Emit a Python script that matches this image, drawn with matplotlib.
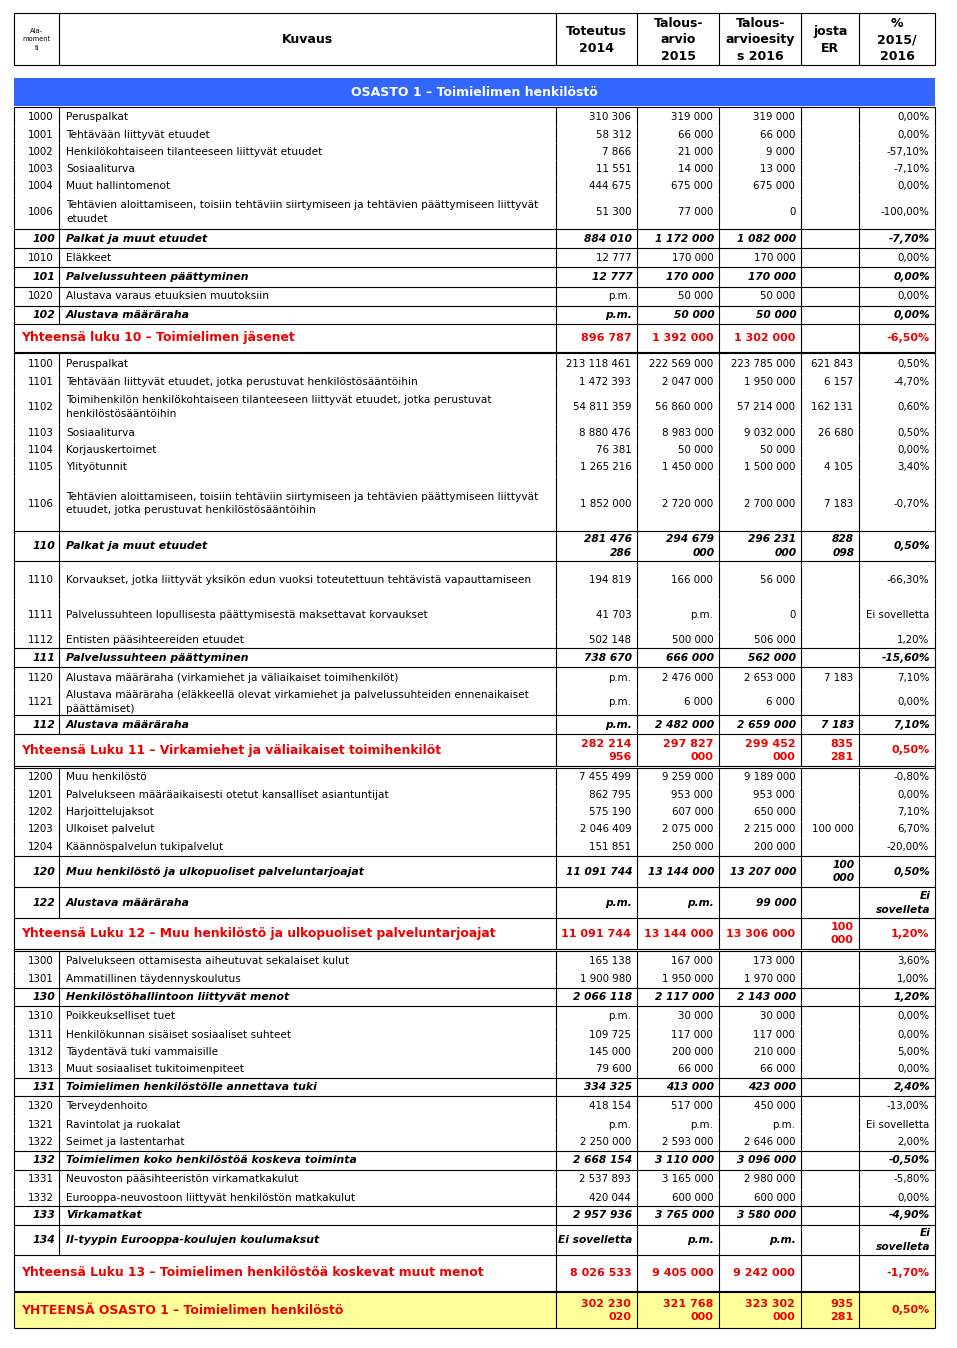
import matplotlib.pyplot as plt
from matplotlib.patches import Rectangle

plt.rcParams['font.family'] = 'DejaVu Sans'

# ---- table contents ----
header_labels = ['Ala-\nmoment\nti', 'Kuvaus', 'Toteutus\n2014', 'Talous-\narvio\n2015',
                 'Talous-\narvioesity\ns 2016', 'josta\nER', '%\n2015/\n2016']
section_title = 'OSASTO 1 – Toimielimen henkilöstö'

codes = ['1000', '1001', '1002', '1003', '1004', '1006', '100', '1010', '101', '1020', '102', '',
         '1100', '1101', '1102', '1103', '1104', '1105', '1106', '110',
         '1110', '1111', '1112', '111', '1120', '1121', '112', '',
         '1200', '1201', '1202', '1203', '1204', '120', '122', '',
         '1300', '1301', '130', '1310', '1311', '1312', '1313', '131',
         '1320', '1321', '1322', '132', '1331', '1332', '133', '134', '', '']

row_kinds = ['item'] * 6 + ['sub', 'item', 'sub', 'item', 'sub', 'total'] + \
            ['item'] * 7 + ['sub'] + ['item'] * 3 + ['sub', 'item', 'item', 'sub', 'total'] + \
            ['item'] * 5 + ['sub', 'sub', 'total'] + \
            ['item', 'item', 'sub'] + ['item'] * 4 + ['sub'] + ['item'] * 3 + ['sub'] + \
            ['item', 'item', 'sub', 'sub', 'total', 'grand']

descriptions = [
    'Peruspalkat',
    'Tehtävään liittyvät etuudet',
    'Henkilökohtaiseen tilanteeseen liittyvät etuudet',
    'Sosiaaliturva',
    'Muut hallintomenot',
    'Tehtävien aloittamiseen, toisiin tehtäviin siirtymiseen ja tehtävien päättymiseen liittyvät\netuudet',
    'Palkat ja muut etuudet',
    'Eläkkeet',
    'Palvelussuhteen päättyminen',
    'Alustava varaus etuuksien muutoksiin',
    'Alustava määräraha',
    'Yhteensä luku 10 – Toimielimen jäsenet',
    'Peruspalkat',
    'Tehtävään liittyvät etuudet, jotka perustuvat henkilöstösääntöihin',
    'Toimihenkilön henkilökohtaiseen tilanteeseen liittyvät etuudet, jotka perustuvat\nhenkilöstösääntöihin',
    'Sosiaaliturva',
    'Korjauskertoimet',
    'Ylityötunnit',
    'Tehtävien aloittamiseen, toisiin tehtäviin siirtymiseen ja tehtävien päättymiseen liittyvät\netuudet, jotka perustuvat henkilöstösääntöihin',
    'Palkat ja muut etuudet',
    'Korvaukset, jotka liittyvät yksikön edun vuoksi toteutettuun tehtävistä vapauttamiseen',
    'Palvelussuhteen lopullisesta päättymisestä maksettavat korvaukset',
    'Entisten pääsihteereiden etuudet',
    'Palvelussuhteen päättyminen',
    'Alustava määräraha (virkamiehet ja väliaikaiset toimihenkilöt)',
    'Alustava määräraha (eläkkeellä olevat virkamiehet ja palvelussuhteiden ennenaikaiset\npäättämiset)',
    'Alustava määräraha',
    'Yhteensä Luku 11 – Virkamiehet ja väliaikaiset toimihenkilöt',
    'Muu henkilöstö',
    'Palvelukseen määräaikaisesti otetut kansalliset asiantuntijat',
    'Harjoittelujaksot',
    'Ulkoiset palvelut',
    'Käännöspalvelun tukipalvelut',
    'Muu henkilöstö ja ulkopuoliset palveluntarjoajat',
    'Alustava määräraha',
    'Yhteensä Luku 12 – Muu henkilöstö ja ulkopuoliset palveluntarjoajat',
    'Palvelukseen ottamisesta aiheutuvat sekalaiset kulut',
    'Ammatillinen täydennyskoulutus',
    'Henkilöstöhallintoon liittyvät menot',
    'Poikkeukselliset tuet',
    'Henkilökunnan sisäiset sosiaaliset suhteet',
    'Täydentävä tuki vammaisille',
    'Muut sosiaaliset tukitoimenpiteet',
    'Toimielimen henkilöstölle annettava tuki',
    'Terveydenhoito',
    'Ravintolat ja ruokalat',
    'Seimet ja lastentarhat',
    'Toimielimen koko henkilöstöä koskeva toiminta',
    'Neuvoston pääsihteeristön virkamatkakulut',
    'Eurooppa-neuvostoon liittyvät henkilöstön matkakulut',
    'Virkamatkat',
    'II-tyypin Eurooppa-koulujen koulumaksut',
    'Yhteensä Luku 13 – Toimielimen henkilöstöä koskevat muut menot',
    'YHTEENSÄ OSASTO 1 – Toimielimen henkilöstö',
]

toteutus_2014 = ['310 306', '58 312', '7 866', '11 551', '444 675', '51 300', '884 010', '12 777', '12 777',
                 'p.m.', 'p.m.', '896 787',
                 '213 118 461', '1 472 393', '54 811 359', '8 880 476', '76 381', '1 265 216', '1 852 000',
                 '281 476\n286', '194 819', '41 703', '502 148', '738 670', 'p.m.', 'p.m.', 'p.m.',
                 '282 214\n956',
                 '7 455 499', '862 795', '575 190', '2 046 409', '151 851', '11 091 744', 'p.m.', '11 091 744',
                 '165 138', '1 900 980', '2 066 118', 'p.m.', '109 725', '145 000', '79 600', '334 325',
                 '418 154', 'p.m.', '2 250 000', '2 668 154', '2 537 893', '420 044', '2 957 936',
                 'Ei sovelletta', '8 026 533', '302 230\n020']

talousarvio_2015 = ['319 000', '66 000', '21 000', '14 000', '675 000', '77 000', '1 172 000', '170 000', '170 000',
                    '50 000', '50 000', '1 392 000',
                    '222 569 000', '2 047 000', '56 860 000', '8 983 000', '50 000', '1 450 000', '2 720 000',
                    '294 679\n000', '166 000', 'p.m.', '500 000', '666 000', '2 476 000', '6 000', '2 482 000',
                    '297 827\n000',
                    '9 259 000', '953 000', '607 000', '2 075 000', '250 000', '13 144 000', 'p.m.', '13 144 000',
                    '167 000', '1 950 000', '2 117 000', '30 000', '117 000', '200 000', '66 000', '413 000',
                    '517 000', 'p.m.', '2 593 000', '3 110 000', '3 165 000', '600 000', '3 765 000',
                    'p.m.', '9 405 000', '321 768\n000']

esitys_2016 = ['319 000', '66 000', '9 000', '13 000', '675 000', '0', '1 082 000', '170 000', '170 000',
               '50 000', '50 000', '1 302 000',
               '223 785 000', '1 950 000', '57 214 000', '9 032 000', '50 000', '1 500 000', '2 700 000',
               '296 231\n000', '56 000', '0', '506 000', '562 000', '2 653 000', '6 000', '2 659 000',
               '299 452\n000',
               '9 189 000', '953 000', '650 000', '2 215 000', '200 000', '13 207 000', '99 000', '13 306 000',
               '173 000', '1 970 000', '2 143 000', '30 000', '117 000', '210 000', '66 000', '423 000',
               '450 000', 'p.m.', '2 646 000', '3 096 000', '2 980 000', '600 000', '3 580 000',
               'p.m.', '9 242 000', '323 302\n000']

josta_er = ['', '', '', '', '', '', '', '', '', '', '', '',
            '621 843', '6 157', '162 131', '26 680', '', '4 105', '7 183', '828\n098',
            '', '', '', '', '7 183', '', '7 183', '835\n281',
            '', '', '', '100 000', '', '100\n000', '', '100\n000',
            '', '', '', '', '', '', '', '',
            '', '', '', '', '', '', '', '', '', '935\n281']

muutos_pct = ['0,00%', '0,00%', '-57,10%', '-7,10%', '0,00%', '-100,00%', '-7,70%', '0,00%', '0,00%',
              '0,00%', '0,00%', '-6,50%',
              '0,50%', '-4,70%', '0,60%', '0,50%', '0,00%', '3,40%', '-0,70%', '0,50%',
              '-66,30%', 'Ei sovelletta', '1,20%', '-15,60%', '7,10%', '0,00%', '7,10%', '0,50%',
              '-0,80%', '0,00%', '7,10%', '6,70%', '-20,00%', '0,50%', 'Ei\nsovelleta', '1,20%',
              '3,60%', '1,00%', '1,20%', '0,00%', '0,00%', '5,00%', '0,00%', '2,40%',
              '-13,00%', 'Ei sovelletta', '2,00%', '-0,50%', '-5,80%', '0,00%', '-4,90%',
              'Ei\nsovelleta', '-1,70%', '0,50%']

# ---- layout (pixels) ----
col_edges = [14.3, 59.3, 555.5, 637.3, 719.3, 801.3, 859.3, 935.3]
row_heights = [19, 17, 17, 17, 18, 34,
               19, 19, 19.4, 19, 18.6,
               27.2,
               21, 16, 34, 17, 17, 18, 54.7,
               30.3,
               38, 32, 17.3,
               19,
               21.5, 26.5,
               19,
               31.7,
               19, 17, 17, 17, 18.3,
               31.3, 31,
               30.4,
               20, 17,
               18.7,
               20, 17, 17, 17.7,
               18.3,
               20, 17, 17.7,
               18.6,
               19.5, 16.9,
               18.6,
               30.7,
               35.3,
               36]
double_gap = 1.7
lw = 0.8
red = '#F00000'
blue = '#3366FF'
yellow = '#FFFF99'


def ls_for(px, size):
    # line spacing factor giving roughly `px` pixels between baselines
    return px / (size * 100 / 72)


fig = plt.figure(figsize=(9.57, 13.48), dpi=100)
ax = fig.add_axes([0, 0, 1, 1])
ax.set_xlim(0, 957)
ax.set_ylim(1348, 0)
ax.axis('off')

left, right = col_edges[0], col_edges[-1]

# header row
h_top, h_bot = 13.3, 65.3
ax.add_patch(Rectangle((left, h_top), right - left, h_bot - h_top, fill=False, ec='black', lw=lw))
ax.vlines(col_edges[1:-1], h_top, h_bot, color='black', lw=lw)
h_mid = (h_top + h_bot) / 2
for j, lab in enumerate(header_labels):
    xc = (col_edges[j] + col_edges[j + 1]) / 2
    if j == 0:
        ax.text(xc, h_mid, lab, ha='center', va='center', fontsize=4.8, linespacing=ls_for(10, 4.8),
                multialignment='center')
    else:
        ax.text(xc, h_mid + 0.5, lab, ha='center', va='center', fontsize=9, fontweight='bold',
                linespacing=ls_for(17, 9), multialignment='center')

# section bar
ax.add_patch(Rectangle((left, 77.7), right - left, 28.3, color=blue, lw=0))
ax.text((left + right) / 2, 92, section_title, ha='center', va='center', fontsize=9,
        fontweight='bold', color='white')

columns = [toteutus_2014, talousarvio_2015, esitys_2016, josta_er, muutos_pct]

y = 107.3
ax.hlines(y, left, right, color='black', lw=lw)
n = len(row_heights)
for i, h in enumerate(row_heights):
    kind = row_kinds[i]
    top, bot = y, y + h
    yc = (top + bot) / 2
    if kind == 'grand':
        ax.add_patch(Rectangle((left, top), right - left, h, color=yellow, lw=0))
    if kind in ('item', 'sub'):
        edges = col_edges
    else:
        edges = [col_edges[0]] + col_edges[2:]
    ax.vlines(edges, top, bot, color='black', lw=lw)

    if kind == 'item':
        ax.text(54, yc, codes[i], ha='right', va='center', fontsize=7.4)
        ax.text(66, yc, descriptions[i], ha='left', va='center', fontsize=7.6,
                linespacing=ls_for(15.5, 7.6))
        for j, col in enumerate(columns):
            ax.text(col_edges[j + 3] - 6, yc, col[i], ha='right', va='center', fontsize=7.4)
    elif kind == 'sub':
        ax.text(55, yc, codes[i], ha='right', va='center', fontsize=7.8,
                fontweight='bold', fontstyle='italic')
        ax.text(66, yc, descriptions[i], ha='left', va='center', fontsize=7.8,
                fontweight='bold', fontstyle='italic')
        for j, col in enumerate(columns):
            ax.text(col_edges[j + 3] - 5, yc, col[i], ha='right', va='center', fontsize=7.7,
                    fontweight='bold', fontstyle='italic', linespacing=ls_for(15, 7.7))
    else:
        ax.text(21, yc, descriptions[i], ha='left', va='center', fontsize=8.9,
                fontweight='bold', color=red)
        for j, col in enumerate(columns):
            ax.text(col_edges[j + 3] - 6, yc, col[i], ha='right', va='center', fontsize=8,
                    fontweight='bold', color=red, linespacing=ls_for(15, 8))

    y = bot
    if kind in ('total', 'grand'):
        ax.hlines(y, left, right, color='black', lw=lw)
        if kind == 'total':
            ax.vlines([left, right], y, y + double_gap, color='black', lw=lw)
            y += double_gap
            ax.hlines(y, left, right, color='black', lw=lw)
    elif i + 1 < n and (kind == 'sub' or row_kinds[i + 1] != 'item'):
        ax.hlines(y, left, right, color='black', lw=lw)

fig.savefig('out.png', dpi=100)
